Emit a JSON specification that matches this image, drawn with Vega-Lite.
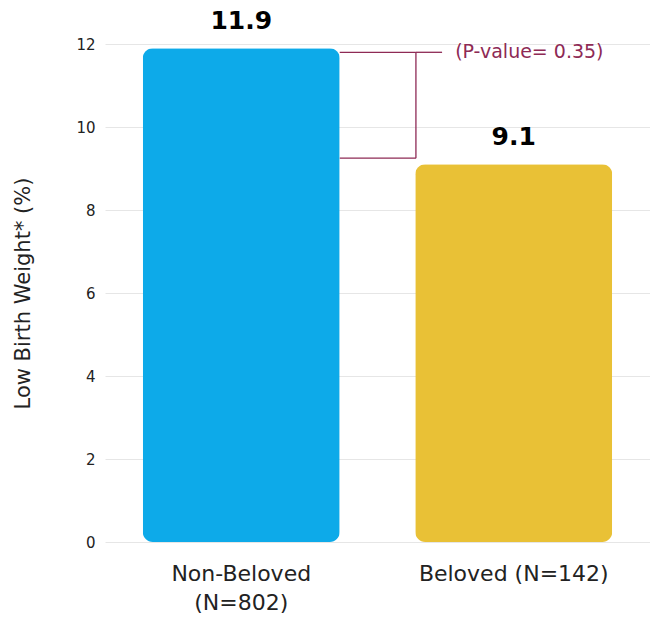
{
  "$schema": "https://vega.github.io/schema/vega-lite/v6.json",
  "autosize": "none",
  "width": 545,
  "height": 498,
  "padding": {"left": 105, "top": 44, "right": 0, "bottom": 79},
  "config": {
    "view": {"stroke": null},
    "font": "DejaVu Sans",
    "axis": {"labelFont": "DejaVu Sans", "titleFont": "DejaVu Sans"}
  },
  "datasets": {
    "groups": [
      {"group": "Non-Beloved\n(N=802)", "pct": 11.9, "label": "11.9"},
      {"group": "Beloved (N=142)", "pct": 9.1, "label": "9.1"}
    ],
    "bracket": [
      {"x": 0.8615, "x2": 1.141, "y": 11.8, "y2": 11.8},
      {"x": 1.141, "x2": 1.141, "y": 11.8, "y2": 9.25},
      {"x": 0.8615, "x2": 1.141, "y": 9.25, "y2": 9.25},
      {"x": 1.141, "x2": 1.237, "y": 11.8, "y2": 11.8}
    ],
    "note": [
      {"x": 1.285, "y": 11.8, "text": "(P-value= 0.35)"}
    ]
  },
  "layer": [
    {
      "data": {"name": "groups"},
      "encoding": {
        "x": {
          "field": "group",
          "type": "nominal",
          "sort": null,
          "scale": {"paddingInner": 0, "paddingOuter": 0},
          "axis": {
            "title": null,
            "labelAngle": 0,
            "labelExpr": "split(datum.label, '\\n')",
            "labelFontSize": 22,
            "labelLimit": 400,
            "labelColor": "#222222",
            "labelPadding": 21,
            "labelLineHeight": 29,
            "ticks": false,
            "domain": false,
            "grid": false
          }
        },
        "y": {
          "field": "pct",
          "type": "quantitative",
          "scale": {"domain": [0, 12], "nice": false},
          "axis": {
            "title": "Low Birth Weight* (%)",
            "titleFontSize": 21,
            "titleFontWeight": "normal",
            "titleColor": "#222222",
            "titlePadding": 42,
            "values": [0, 2, 4, 6, 8, 10, 12],
            "labelFontSize": 15,
            "labelColor": "#222222",
            "labelPadding": 10,
            "ticks": false,
            "domain": false,
            "gridColor": "#e6e6e6",
            "gridWidth": 1
          }
        }
      },
      "layer": [
        {
          "mark": {"type": "bar", "size": 197, "cornerRadius": 10},
          "encoding": {
            "color": {
              "field": "group",
              "type": "nominal",
              "sort": null,
              "scale": {"range": ["#0DAAE9", "#E9C136"]},
              "legend": null
            }
          }
        },
        {
          "mark": {"type": "text", "baseline": "alphabetic", "dy": -19, "fontSize": 25, "fontWeight": "bold", "color": "#000000"},
          "encoding": {"text": {"field": "label"}}
        }
      ]
    },
    {
      "data": {"name": "bracket"},
      "mark": {"type": "rule", "color": "#8E2A55", "strokeWidth": 1.3},
      "encoding": {
        "x": {"field": "x", "type": "quantitative", "scale": {"domain": [0, 2], "nice": false, "zero": false}, "axis": null},
        "x2": {"field": "x2"},
        "y": {"field": "y", "type": "quantitative"},
        "y2": {"field": "y2"}
      }
    },
    {
      "data": {"name": "note"},
      "mark": {"type": "text", "align": "left", "baseline": "middle", "fontSize": 19, "color": "#8E2A55"},
      "encoding": {
        "x": {"field": "x", "type": "quantitative", "scale": {"domain": [0, 2], "nice": false, "zero": false}, "axis": null},
        "y": {"field": "y", "type": "quantitative"},
        "text": {"field": "text"}
      }
    }
  ],
  "resolve": {"scale": {"x": "independent", "color": "independent"}, "axis": {"x": "independent"}}
}
